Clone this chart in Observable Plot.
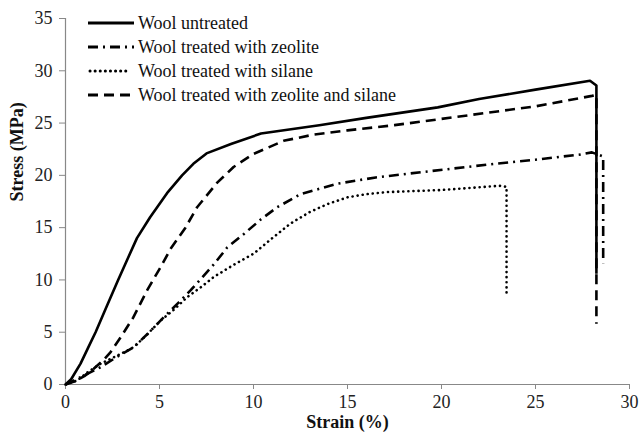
<!DOCTYPE html>
<html><head><meta charset="utf-8">
<script src="https://cdn.jsdelivr.net/npm/d3@7"></script>
<script src="https://cdn.jsdelivr.net/npm/@observablehq/plot@0.6"></script>
<style>
body{margin:0;background:#fff;}
#wrap{position:relative;width:641px;height:435px;font-family:"Liberation Serif","Times New Roman","DejaVu Serif",serif;}
#wrap svg text{font-family:"Liberation Serif","Times New Roman","DejaVu Serif",serif;}
#legend{position:absolute;left:88px;top:11px;font-size:18px;color:#111;font-family:"Liberation Serif","Times New Roman","DejaVu Serif",serif;}
.row{display:flex;align-items:center;height:24px;}
.row svg{margin-right:4px;}
</style>
</head><body>
<div id="wrap"><div id="legend"></div></div>
<script>
const seriesNames = ["Wool untreated","Wool treated with zeolite","Wool treated with silane","Wool treated with zeolite and silane"];
const dashes = ["none","10,5,2,5","0.1,5","10,6"];

const untreatedStrain = [0,0.3,0.8,1.2,1.6,2.2,2.8,3.3,3.8,4.5,5.4,6.2,6.8,7.5,8.8,10.4,13.5,16,19.8,22,25,27.9,28.24,28.24];
const untreatedStress = [0,0.5,2,3.5,5,7.5,10,12,14,16,18.3,20,21.1,22.1,23,24,24.8,25.5,26.5,27.3,28.2,29.05,28.6,10.6];

const zeoliteStrain = [0,0.8,1.86,2.7,3.63,4.4,5.23,6.0,6.65,7.3,7.9,8.6,9.49,10.4,11.26,12.5,14.45,16.5,18.9,22.8,25,27.4,28.0,28.6,28.6];
const zeoliteStress = [0,0.7,1.65,2.6,3.57,4.9,6.43,7.8,9.0,10.3,11.5,13.1,14.4,15.8,16.95,18.2,19.2,19.8,20.3,21.1,21.5,22.0,22.2,21.8,11.6];

const silaneStrain = [0,0.62,1.2,1.86,2.8,3.63,4.3,5.05,5.8,6.47,7.2,7.9,9.0,10.0,11.0,11.97,13.0,14.0,15.0,16.0,17.1,20,23.1,23.46,23.46];
const silaneStress = [0,0.38,1.2,1.98,2.8,3.57,4.7,6.1,7.2,8.35,9.3,10.3,11.5,12.5,14.0,15.4,16.5,17.3,17.9,18.2,18.4,18.6,19.0,18.9,8.4];

const zsStrain = [0,0.5,1,1.5,2,2.4,2.93,3.6,4.34,5.05,5.6,6.38,7,8.07,8.94,10,11.6,13.2,15,17.5,20,22.5,25,28,28.24,28.24];
const zsStress = [0,0.3,0.8,1.5,2.3,3.1,4.5,6.4,9,11.2,13,15,16.95,19.3,20.8,22.05,23.3,23.9,24.3,24.8,25.4,26.0,26.6,27.6,27.7,5.8];

const xTicks = [0,5,10,15,20,25,30];
const yTicks = [0,5,10,15,20,25,30,35];

const strains = [untreatedStrain, zeoliteStrain, silaneStrain, zsStrain];
const stresses = [untreatedStress, zeoliteStress, silaneStress, zsStress];
const tables = strains.map((xs,i)=>xs.map((x,j)=>({strain:x, stress:stresses[i][j], series:seriesNames[i]})));

const lineMarks = tables.map((t,i)=>Plot.line(t,{x:"strain",y:"stress",stroke:"#000",strokeWidth:2.6,
  strokeDasharray:dashes[i]==="none"?undefined:dashes[i],strokeLinecap:i===2?"round":"butt",strokeLinejoin:"round",curve:"linear"}));

const chart = Plot.plot({
  width:641,height:435,
  marginLeft:65,marginRight:12,marginTop:18,marginBottom:51,
  style:{fontFamily:"'Liberation Serif', 'Times New Roman', 'DejaVu Serif', serif",fontSize:"18px",color:"#222",background:"#fff"},
  x:{domain:[0,30]},
  y:{domain:[0,35]},
  marks:[
    Plot.axisX({ticks:xTicks,tickSize:5,tickPadding:6,label:null,fontSize:18,stroke:"#888"}),
    Plot.axisY({ticks:yTicks,tickSize:6,tickPadding:7,label:null,fontSize:18,stroke:"#888"}),
    Plot.ruleY([0],{stroke:"#888",strokeWidth:1.2}),
    Plot.ruleX([0],{stroke:"#888",strokeWidth:1.2}),
    ...lineMarks,
    Plot.text(["Strain (%)"],{frameAnchor:"bottom",dy:43,fontWeight:"bold",fontSize:18,fill:"#111"}),
    Plot.text(["Stress (MPa)"],{frameAnchor:"left",dx:-48,rotate:-90,fontWeight:"bold",fontSize:18,fill:"#111"})
  ]
});
document.getElementById("wrap").prepend(chart);

const legend = document.getElementById("legend");
seriesNames.forEach((name,i)=>{
  const row = document.createElement("div"); row.className="row";
  const cap = i===2?"round":"butt";
  const da = dashes[i]==="none"?"":`stroke-dasharray="${dashes[i]}"`;
  row.innerHTML = `<svg width="46" height="10"><line x1="${i===2?2:0}" y1="5" x2="${i===2?42:46}" y2="5" stroke="#000" stroke-width="3" stroke-linecap="${cap}" ${da}/></svg><span>${name}</span>`;
  legend.appendChild(row);
});
</script>
</body></html>
